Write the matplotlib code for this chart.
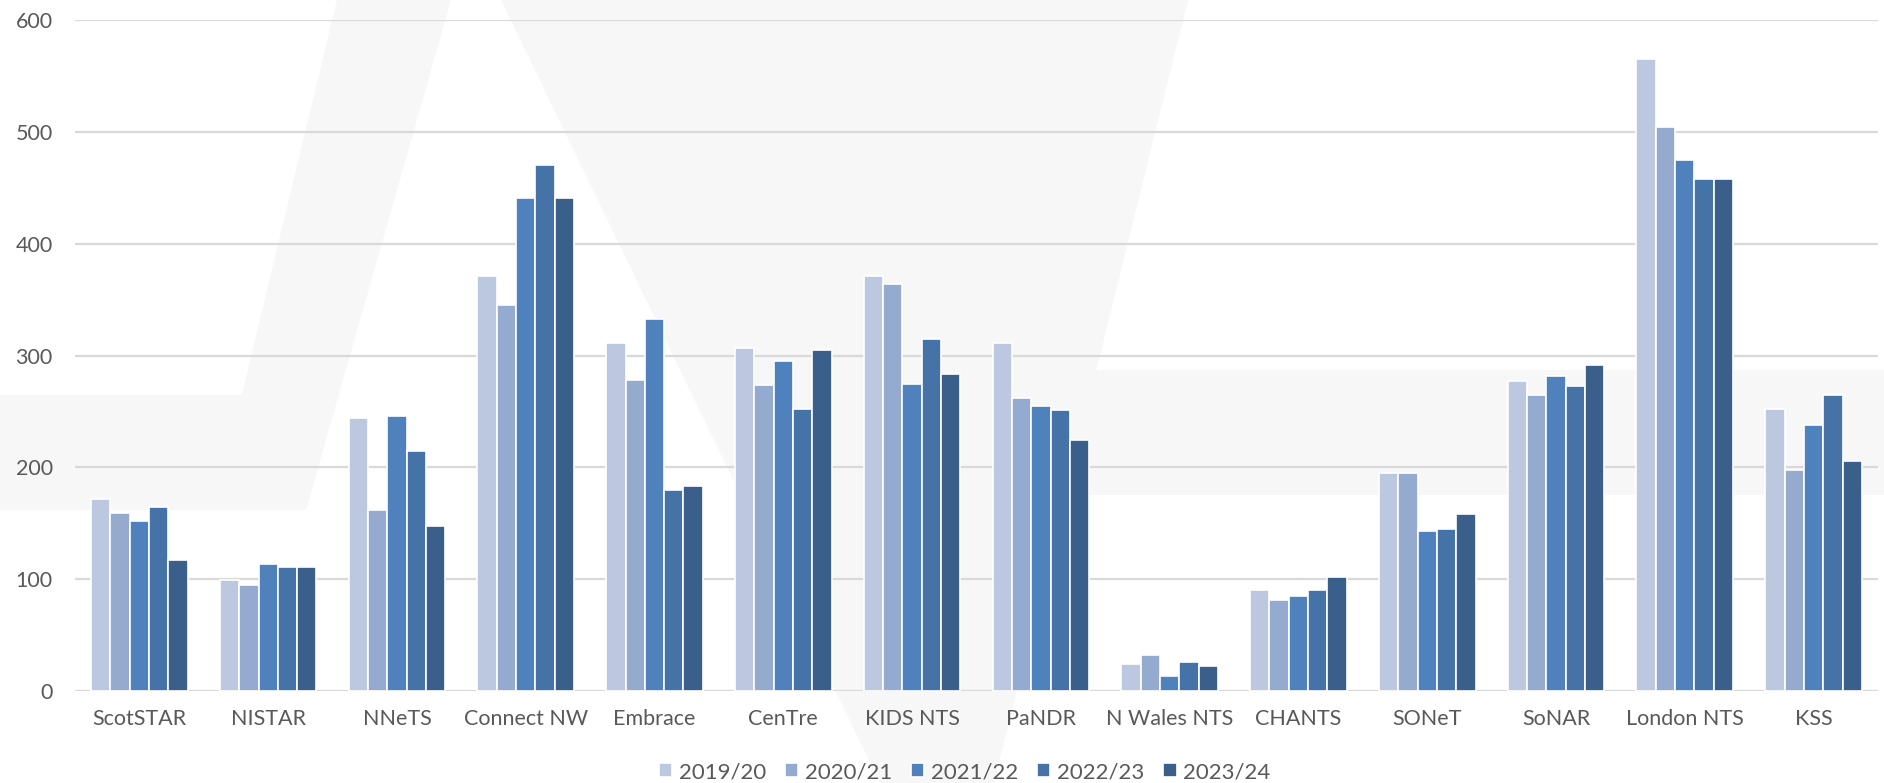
import numpy as np
import matplotlib
matplotlib.use('Agg')
import matplotlib.pyplot as plt
from matplotlib.patches import Polygon

plt.rcParams['font.family'] = ['Lato', 'DejaVu Sans']

# data
categories = ['ScotSTAR', 'NISTAR', 'NNeTS', 'Connect NW', 'Embrace', 'CenTre',
              'KIDS NTS', 'PaNDR', 'N Wales NTS', 'CHANTS', 'SONeT', 'SoNAR',
              'London NTS', 'KSS']
years = ['2019/20', '2020/21', '2021/22', '2022/23', '2023/24']

v_2019 = [172, 99, 244, 371, 311, 307, 371, 311, 24, 90, 195, 277, 565, 252]
v_2020 = [159, 95, 162, 345, 278, 274, 364, 262, 32, 81, 195, 265, 505, 198]
v_2021 = [152, 114, 246, 441, 333, 295, 275, 255, 13, 85, 143, 282, 475, 238]
v_2022 = [165, 111, 215, 471, 180, 252, 315, 251, 26, 90, 145, 273, 458, 265]
v_2023 = [117, 111, 148, 441, 183, 305, 284, 225, 22, 102, 158, 292, 458, 206]
series = [v_2019, v_2020, v_2021, v_2022, v_2023]

colors = ['#BCC8E0', '#95AACF', '#4F81BD', '#4572A7', '#3A5F8B']

W, H = 1884, 783
fig = plt.figure(figsize=(W / 100, H / 100), dpi=100)

# faint watermark logo behind the chart (pixel coords, y from top)
wm_shapes = [
    [(337, 0), (451, 0), (306, 510), (214, 510)],
    [(0, 395), (306, 395), (290, 510), (0, 510)],
    [(994, 370), (1884, 370), (1884, 495), (994, 495)],
    [(501, 0), (1188, 0), (994, 783), (880, 783)],
]
for pts in wm_shapes:
    fig.patches.append(Polygon([(px / W, 1 - py / H) for px, py in pts],
                               closed=True, transform=fig.transFigure,
                               facecolor='#F7F7F7', edgecolor='none', zorder=0))

ax = fig.add_axes([0.0398, 0.1175, 0.957, 0.8565])
ax.set_facecolor('none')
ax.set_zorder(2)

x = np.arange(len(categories))
w = 0.15
for i, vals in enumerate(series):
    ax.bar(x + (i - 2) * w, vals, width=w, color=colors[i], edgecolor='white',
           linewidth=1.2, label=years[i], zorder=3)

ax.set_xlim(-0.5, len(categories) - 0.5)
ax.set_ylim(0, 600)
ax.set_yticks(range(0, 601, 100))
ax.set_xticks(x)
ax.set_xticklabels(categories)
ax.yaxis.grid(True, color='#D9D9D9', linewidth=1.6, zorder=0)
ax.set_axisbelow(True)
for s in ax.spines.values():
    s.set_visible(False)
ax.tick_params(axis='both', length=0, labelsize=15.5, labelcolor='#595959')
ax.tick_params(axis='x', pad=13)
ax.tick_params(axis='y', pad=16)

fig.legend(loc='center', bbox_to_anchor=(0.512, 0.014), ncol=5, frameon=False,
           fontsize=16, handlelength=0.6, handleheight=0.6, handletextpad=0.3,
           columnspacing=0.85, labelcolor='#595959')

plt.savefig('out.png', dpi=100)
